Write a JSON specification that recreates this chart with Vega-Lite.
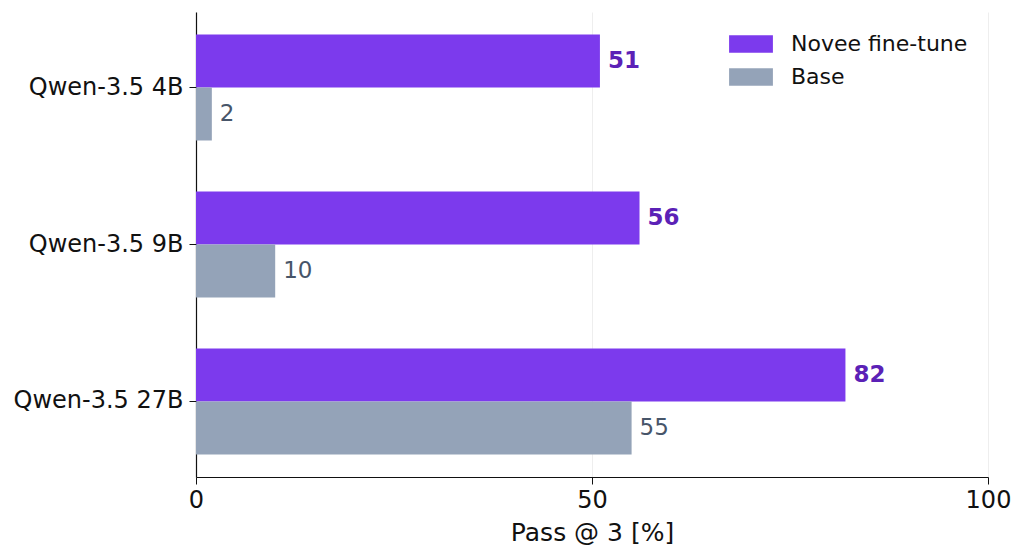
{
  "$schema": "https://vega.github.io/schema/vega-lite/v6.json",
  "autosize": {"type": "none"},
  "width": 792,
  "height": 465,
  "padding": {"left": 196, "top": 12, "right": 36, "bottom": 82},
  "background": "white",
  "config": {
    "view": {"stroke": null},
    "font": "DejaVu Sans"
  },
  "data": {
    "values": [
      {"model": "Qwen-3.5 4B", "series": "Novee fine-tune", "value": 51},
      {"model": "Qwen-3.5 4B", "series": "Base", "value": 2},
      {"model": "Qwen-3.5 9B", "series": "Novee fine-tune", "value": 56},
      {"model": "Qwen-3.5 9B", "series": "Base", "value": 10},
      {"model": "Qwen-3.5 27B", "series": "Novee fine-tune", "value": 82},
      {"model": "Qwen-3.5 27B", "series": "Base", "value": 55}
    ]
  },
  "encoding": {
    "y": {
      "field": "model",
      "type": "nominal",
      "sort": ["Qwen-3.5 4B", "Qwen-3.5 9B", "Qwen-3.5 27B"],
      "scale": {"paddingInner": 0.325, "paddingOuter": 0.1435},
      "axis": {
        "title": null,
        "labelFont": "DejaVu Sans",
        "labelFontSize": 24,
        "labelColor": "#111111",
        "labelPadding": 6,
        "labelLimit": 400,
        "tickColor": "#111111",
        "tickSize": 7,
        "domainColor": "#111111",
        "domainWidth": 1.2,
        "grid": false
      }
    },
    "yOffset": {
      "field": "series",
      "type": "nominal",
      "sort": ["Novee fine-tune", "Base"]
    },
    "x": {
      "field": "value",
      "type": "quantitative",
      "scale": {"domain": [0, 100], "nice": false},
      "axis": {
        "title": "Pass @ 3 [%]",
        "titleFont": "DejaVu Sans",
        "titleFontSize": 25,
        "titleFontWeight": "normal",
        "titleColor": "#111111",
        "titlePadding": 8,
        "values": [0, 50, 100],
        "labelFont": "DejaVu Sans",
        "labelFontSize": 24,
        "labelColor": "#111111",
        "labelPadding": 4,
        "labelFlush": false,
        "tickColor": "#111111",
        "tickSize": 7,
        "domainColor": "#111111",
        "domainWidth": 1.2,
        "grid": true,
        "gridColor": "#eeeeee",
        "gridWidth": 1
      }
    }
  },
  "layer": [
    {
      "mark": {"type": "bar", "stroke": null},
      "encoding": {
        "color": {
          "field": "series",
          "type": "nominal",
          "sort": ["Novee fine-tune", "Base"],
          "scale": {"domain": ["Novee fine-tune", "Base"], "range": ["#7c3aed", "#94a3b8"]},
          "legend": {
            "title": null,
            "orient": "none",
            "legendX": 533,
            "legendY": 10,
            "symbolType": "M-1,-0.4L1,-0.4L1,0.4L-1,0.4Z",
            "symbolSize": 1920,
            "symbolStrokeWidth": 0,
            "labelFont": "DejaVu Sans",
            "labelFontSize": 22,
            "labelColor": "#111111",
            "labelLimit": 400,
            "labelOffset": 18,
            "rowPadding": -12
          }
        }
      }
    },
    {
      "transform": [{"filter": "datum.series === 'Novee fine-tune'"}],
      "mark": {"type": "text", "align": "left", "baseline": "middle", "dx": 8, "font": "DejaVu Sans", "fontSize": 23, "fontWeight": "bold", "color": "#5b21b6"},
      "encoding": {
        "text": {"field": "value", "type": "quantitative"}
      }
    },
    {
      "transform": [{"filter": "datum.series === 'Base'"}],
      "mark": {"type": "text", "align": "left", "baseline": "middle", "dx": 8, "font": "DejaVu Sans", "fontSize": 23, "fontWeight": "normal", "color": "#475569"},
      "encoding": {
        "text": {"field": "value", "type": "quantitative"}
      }
    }
  ]
}
